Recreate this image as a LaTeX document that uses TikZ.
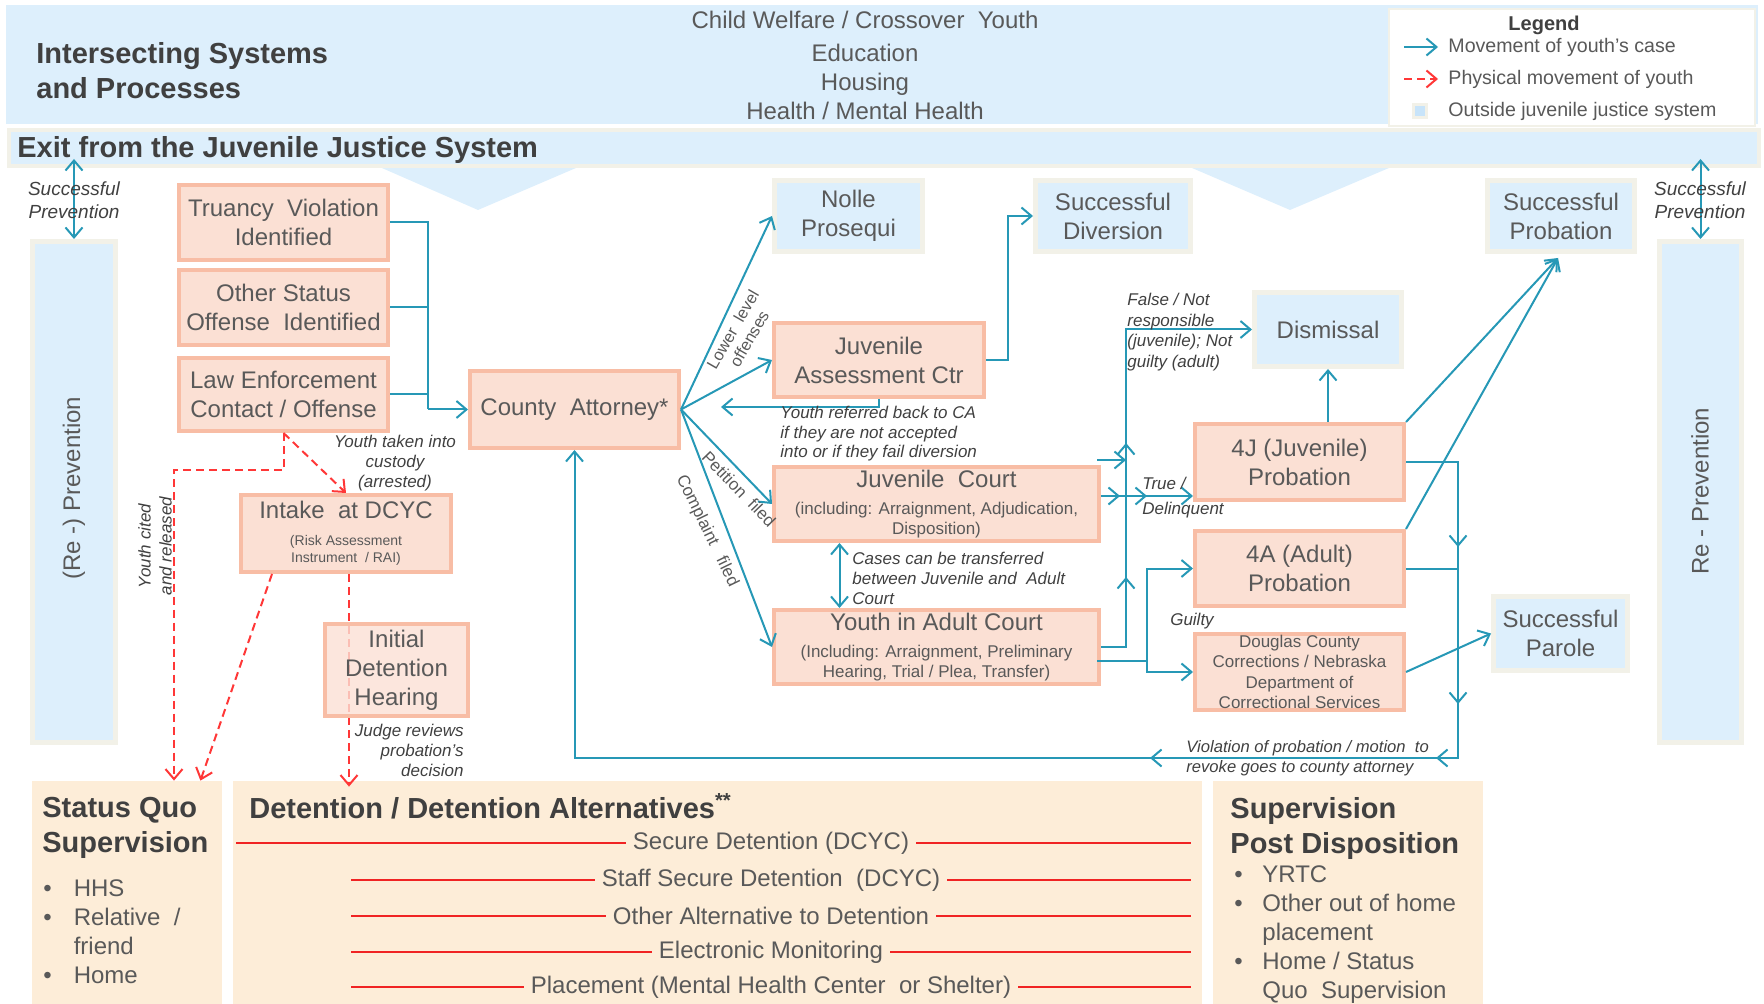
\documentclass[tikz,border=0pt]{standalone}
\usepackage{fontspec}
\setmainfont{Liberation Sans}
\usetikzlibrary{arrows.meta,calc,decorations.markings}

\definecolor{bandblue}{RGB}{221,239,252}
\definecolor{keyblue}{RGB}{200,228,250}
\definecolor{creamedge}{RGB}{242,241,232}
\definecolor{boxfill}{RGB}{251,224,212}
\definecolor{boxedge}{RGB}{248,189,165}
\definecolor{panel}{RGB}{253,237,216}
\definecolor{flow}{RGB}{38,152,182}
\definecolor{dashred}{RGB}{255,55,55}
\definecolor{rulered}{RGB}{240,35,35}
\definecolor{txt}{RGB}{89,89,89}
\definecolor{ttl}{RGB}{64,64,64}

\newcommand\fsz[2]{\fontsize{#1}{#2}\selectfont}

\tikzset{
  procbox/.style={draw=boxedge, fill=boxfill, line width=2pt, inner sep=0pt,
    align=center, text=txt, font=\fsz{12}{14.5}},
  outbox/.style={draw=creamedge, fill=bandblue, line width=2.5pt, inner sep=0pt,
    align=center, text=txt, font=\fsz{12}{14.5}},
  panelbox/.style={fill=panel, inner sep=0pt},
  flowline/.style={draw=flow, line width=1pt},
  flowarrow/.style={flowline, ->},
  physarrow/.style={draw=dashred, line width=1pt, dash pattern=on 4pt off 2.5pt, ->},
  note/.style={text=ttl, font=\fsz{8.5}{10}\itshape, inner sep=0pt},
  sidenote/.style={text=txt, font=\fsz{8.5}{10}, inner sep=0pt},
  legtext/.style={text=txt, font=\fsz{9.8}{11}, inner sep=0pt, anchor=west},
  heading/.style={text=ttl, font=\fsz{14.5}{17.5}\bfseries, inner sep=0pt, align=left},
  plain/.style={text=txt, font=\fsz{12}{14.5}, inner sep=0pt},
  detrow/.style={text=txt, font=\fsz{12}{14.5}, fill=panel, inner xsep=3.5pt, inner ysep=1pt},
  tipsat/.style={postaction={decorate, decoration={markings, #1}}},
}

\begin{document}
\begin{tikzpicture}[x=0.5pt, y=-0.5pt, >={Straight Barb[length=5pt,width=8.5pt]}]
\useasboundingbox (0,0) rectangle (1764,1004);

% ---- intersecting systems band and legend
\node[fill=bandblue, inner sep=0pt, minimum width=876pt, minimum height=59.5pt] (sysband) at (882,64.5) {};
\node[draw=creamedge, line width=1pt, fill=white, inner sep=0pt, minimum width=183pt, minimum height=58.5pt] (legend) at (1572,67.5) {};

\node[heading, anchor=north west] (systitle) at (36,42) {Intersecting Systems\\and Processes};
\node[plain] (sys1) at (865,20) {Child Welfare / Crossover\ \ Youth};
\node[plain] (sys2) at (865,53) {Education};
\node[plain] (sys3) at (865,84) {Housing};
\node[plain] (sys4) at (865,111) {Health\ / Mental Health};

\node[text=ttl, font=\fsz{10}{12}\bfseries, inner sep=0pt] (legtitle) at (1544,25) {Legend};
\coordinate (lg1a) at (1404,47);  \coordinate (lg1b) at (1438,47);
\coordinate (lg2a) at (1404,79);  \coordinate (lg2b) at (1438,79);
\draw[flowarrow] (lg1a) -- (lg1b);
\draw[physarrow] (lg2a) -- (lg2b);
\node[draw=creamedge, fill=keyblue, line width=1.5pt, inner sep=0pt, minimum size=6.5pt] (lgsq) at (1420,111) {};
\node[legtext] (lgt1) at (1448,47) {Movement of youth's case};
\node[legtext] (lgt2) at (1448,79) {Physical movement of youth};
\node[legtext] (lgt3) at (1448,111) {Outside juvenile justice system};

% ---- exit band with its two pointers
\fill[bandblue] (375,165) -- (583,165) -- (478,210) -- cycle;
\fill[bandblue] (1185,165) -- (1396,165) -- (1290,210) -- cycle;
\node[draw=creamedge, fill=bandblue, line width=2pt, inner sep=0pt, minimum width=875pt, minimum height=18pt] (exitband) at (884,148) {};
\node[heading, anchor=base west] (exittitle) at (17,157.5) {Exit from the Juvenile Justice System};

% ---- prevention bars
\node[outbox, minimum width=41.5pt, minimum height=250.5pt] (prevL) at (74,492) {};
\node[outbox, minimum width=41pt, minimum height=250.5pt] (prevR) at (1700.5,492) {};
\node[plain, rotate=90] (prevLtext) at (74,488) {(Re -) Prevention};
\node[plain, rotate=90] (prevRtext) at (1700,491) {Re - Prevention};
\draw[flowline, <->] (prevL.north) -- ($(prevL.north |- exitband.south)+(0,-9)$);
\draw[flowline, <->] (prevR.north) -- ($(prevR.north |- exitband.south)+(0,-9)$);
\node[note, font=\fsz{9.5}{11.5}\itshape, align=center] (spL) at (74,200) {Successful\\Prevention};
\node[note, font=\fsz{9.5}{11.5}\itshape, align=center] (spR) at (1700,200) {Successful\\Prevention};

% ---- bottom panels
\node[panelbox, minimum width=95pt, minimum height=111.5pt] (sq) at (127,892.5) {};
\node[panelbox, minimum width=484.5pt, minimum height=111.5pt] (det) at (717.5,892.5) {};
\node[panelbox, minimum width=135pt, minimum height=111.5pt] (spd) at (1348,892.5) {};

\node[heading, anchor=north west] (sqtitle) at (42,797) {Status Quo\\Supervision};
\node[plain, anchor=north west] (sqlist) at (43,875.3) {%
  \begin{tabular}{@{}l@{\hspace{11pt}}l@{}}
  \textbullet & HHS\\
  \textbullet & Relative\ \ /\\
   & friend\\
  \textbullet & Home
  \end{tabular}};

\node[heading, anchor=base west] (dettitle) at (249,818) {Detention / Detention Alternatives\textsuperscript{**}};
\draw[rulered, line width=1pt] (236,843) -- (1191,843);
\draw[rulered, line width=1pt] (351,880) -- (1191,880);
\draw[rulered, line width=1pt] (351,916) -- (1191,916);
\draw[rulered, line width=1pt] (351,952) -- (1191,952);
\draw[rulered, line width=1pt] (351,987) -- (1191,987);
\node[detrow] (det1) at (771,843) {Secure Detention (DCYC)};
\node[detrow] (det2) at (771,880) {Staff Secure Detention\ \ (DCYC)};
\node[detrow] (det3) at (771,916) {Other Alternative to Detention};
\node[detrow] (det4) at (771,952) {Electronic Monitoring};
\node[detrow] (det5) at (771,987) {Placement (Mental Health Center\ \ or Shelter)};

\node[heading, anchor=north west] (spdtitle) at (1230,797) {Supervision\\Post Disposition};
\node[plain, anchor=north west] (spdlist) at (1234,862) {%
  \begin{tabular}{@{}l@{\hspace{9.8pt}}l@{}}
  \textbullet & YRTC\\
  \textbullet & Other\ out of home\\
   & placement\\
  \textbullet & Home / Status\\
   & Quo\ \ Supervision
  \end{tabular}};

% ---- process boxes
\node[procbox, minimum width=104.5pt, minimum height=37.5pt] (truancy) at (283.5,222.5) {Truancy\ \ Violation\\Identified};
\node[procbox, minimum width=104.5pt, minimum height=37.5pt] (other) at (283.5,307.5) {Other Status\\Offense\ \ Identified};
\node[procbox, minimum width=104.5pt, minimum height=36.5pt] (law) at (283.5,394.5) {Law Enforcement\\Contact / Offense};
\node[procbox, minimum width=104.5pt, minimum height=38.5pt] (ca) at (574.5,409.5) {County\ \ Attorney*};
\node[procbox, minimum width=105pt, minimum height=37pt] (jac) at (879,360) {Juvenile\\Assessment Ctr};
\node[procbox, minimum width=162.5pt, minimum height=37pt, font=\fsz{8.5}{10}] (jc) at (936.5,504)
  {{\fsz{12}{14.5}Juvenile\ \ Court}\\[3.3pt](including: Arraignment, Adjudication,\\Disposition)};
\node[procbox, minimum width=162.5pt, minimum height=37pt, font=\fsz{8.5}{10}] (yac) at (936.5,647)
  {{\fsz{12}{14.5}Youth in Adult Court}\\[3.3pt](Including: Arraignment, Preliminary\\Hearing, Trial / Plea, Transfer)};
\node[procbox, minimum width=105pt, minimum height=38.5pt, font=\fsz{7}{8.5}] (intake) at (346,533.5)
  {{\fsz{12}{14.5}Intake\ \ at DCYC}\\[4.8pt](Risk Assessment\\Instrument\ \ / RAI)};
\node[procbox, minimum width=104.5pt, minimum height=38pt] (p4j) at (1299.5,462) {4J (Juvenile)\\Probation};
\node[procbox, minimum width=104.5pt, minimum height=37.5pt] (p4a) at (1299.5,568.5) {4A (Adult)\\Probation};
\node[procbox, minimum width=104.5pt, minimum height=38pt, font=\fsz{8.5}{10.2}] (dcc) at (1299.5,672)
  {Douglas County\\Corrections / Nebraska\\Department of\\Correctional Services};

% ---- outcome boxes outside the system
\node[outbox, minimum width=74pt, minimum height=35.5pt] (nolle) at (848.5,216) {Nolle\\Prosequi};
\node[outbox, minimum width=77.5pt, minimum height=35.5pt] (sdiv) at (1113,216) {Successful\\Diversion};
\node[outbox, minimum width=73.5pt, minimum height=37pt] (dismissal) at (1328,329.5) {Dismissal};
\node[outbox, minimum width=73.5pt, minimum height=35.5pt] (sprob) at (1561,216) {Successful\\Probation};
\node[outbox, minimum width=67pt, minimum height=37pt] (sparole) at (1560.5,633.5) {Successful\\Parole};

% ---- physical movement of youth
\coordinate (citeturn) at (174,470);
\draw[physarrow] (law.south) |- (citeturn) -- (citeturn |- sq.north);
\draw[physarrow] (law.south) -- (intake.north);
\draw[physarrow] ($(intake.south west)+(33,0)$) -- ($(sq.north east)+(-22,0)$);
\coordinate (idown) at ($(intake.south)+(3,0)$);
\draw[physarrow] (idown) -- ($(idown |- det.north)+(0,6)$);
\node[procbox, minimum width=71.5pt, minimum height=46pt, fill opacity=0.8, text opacity=1] (idh) at (396.5,670) {Initial\\Detention\\Hearing};

% ---- movement of the case
\coordinate (feed) at (428,409.5);
\draw[flowline] (truancy.east) -| (feed);
\draw[flowline] (other.east) -- (other.east -| feed);
\draw[flowline] (law.east) -- (law.east -| feed);
\draw[flowarrow] (feed) -- (ca.west);

\draw[flowarrow] (ca.east) -- (nolle.west);
\draw[flowarrow] (ca.east) -- (jac.west);
\draw[flowarrow] (ca.east) -- (jc.west);
\draw[flowarrow] (ca.east) -- (yac.west);

\coordinate (backtip) at (721,407);
\draw[flowarrow] (jac.south) |- (backtip);
\draw[flowarrow] (jac.east) -- ++(22,0) |- (sdiv.west);

\draw[flowline, <->] ($(jc.south)+(-97,0)$) -- ($(yac.north)+(-97,0)$);

\coordinate (vx) at ($(yac.east)+(25,0)$);
\draw[flowarrow, tipsat={mark=at position 47.5pt with {\arrow{>}}, mark=at position 114.5pt with {\arrow{>}}}]
  (yac.east) -- (vx) |- (dismissal.west);
\coordinate (jctop) at ($(jc.north east)+(-4,-5)$);
\draw[flowarrow] (jctop) -- (jctop -| vx);
\coordinate (jcr) at ($(jc.east)+(0,-8)$);
\draw[flowarrow, tipsat={mark=at position 9.5pt with {\arrow{>}}, mark=at position 23pt with {\arrow{>}}}]
  (jcr) -- (jcr -| p4j.west);

\coordinate (yacr) at ($(yac.east)+(-4,14)$);
\draw[flowarrow] (yacr) -- ++(50,0) |- (p4a.west);
\draw[flowarrow] (yacr) -- ++(50,0) |- (dcc.west);

\draw[flowarrow] (dismissal.south |- p4j.north) -- (dismissal.south);
\coordinate (sprobin) at ($(sprob.south)+(-3,4)$);
\draw[flowarrow] (p4j.north east) -- (sprobin);
\draw[flowarrow] (p4a.north east) -- (sprobin);
\draw[flowarrow] (dcc.east) -- (sparole.west);

\coordinate (rbot) at (1458,758);
\draw[flowarrow, tipsat={mark=at position 68.5pt with {\arrow{>}}, mark=at position 147pt with {\arrow{>}},
    mark=at position 185pt with {\arrow{>}}, mark=at position 328pt with {\arrow{>}}}]
  (p4j.east) -| (rbot) -| (ca.south);
\draw[flowline] (p4a.east) -- (p4a.east -| rbot);

% ---- connector labels
\node[sidenote, rotate=60, align=center, font=\fsz{8.2}{9.5}] (lbllower) at (741,334) {Lower\ \ level\\offenses};
\node[sidenote, rotate=-46] (lblpetition) at (739,489) {Petition\ \ filed};
\node[sidenote, rotate=-64] (lblcomplaint) at (707,531) {Complaint\ \ \ filed};
\node[note, anchor=west, align=left, font=\fsz{8.5}{9.8}\itshape] (lblback) at (780,434)
  {Youth referred back to CA\\if they are not accepted\\into or if they fail diversion};
\node[note, anchor=west, align=left] (lbltransfer) at (852,578)
  {Cases can be transferred\\between Juvenile and\ \ Adult\\Court};
\node[note, anchor=west, align=left, font=\fsz{8.5}{10.3}\itshape] (lblfalse) at (1127,332)
  {False / Not\\responsible\\(juvenile); Not\\guilty (adult)};
\node[note, anchor=west, align=left, font=\fsz{8.5}{12.5}\itshape] (lbltrue) at (1142,497.5) {True /\\Delinquent};
\node[note] (lblguilty) at (1192,621) {Guilty};
\node[note, anchor=west, align=left, font=\fsz{8.3}{10}\itshape] (lblviol) at (1186,758)
  {Violation of probation / motion\ \ to\\revoke goes to county attorney};
\node[note, align=center] (lblcustody) at (395,463) {Youth taken into\\custody\\(arrested)};
\node[note, align=right, anchor=east] (lbljudge) at (464,750) {Judge reviews\\probation's\\decision};
\node[note, align=center, rotate=90, font=\fsz{8.5}{10.5}\itshape] (lblcited) at (155,546) {Youth cited\\and released};

\end{tikzpicture}
\end{document}
